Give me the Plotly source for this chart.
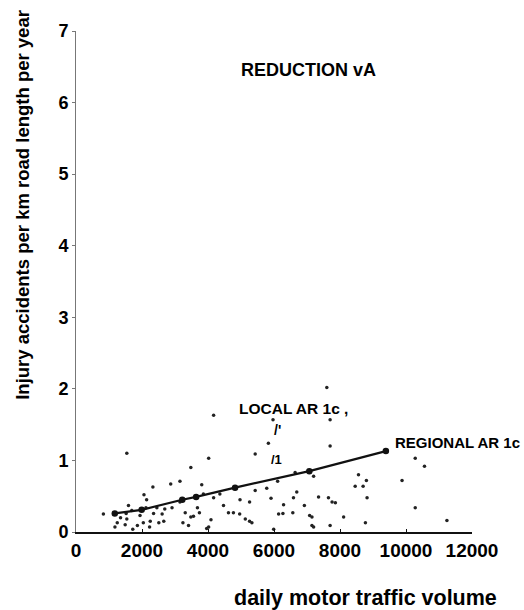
import plotly.graph_objects as go

# scatter data: daily motor traffic volume vs injury accidents per km per year
scatter_x = [1540, 4170, 7600, 5970, 7700, 5830, 7700, 4020, 5430, 3480, 10280, 10560, 9880,
             3150, 2330, 2870, 3810, 8560, 8800, 8460, 8700, 8820, 7200, 6640, 6110, 5780, 6690,
             6590, 7350, 7650, 7760, 7860, 5910, 6290, 6270, 6140, 6570, 6920, 7080, 7150, 8110,
             7150, 7200, 7700, 8770, 10280, 11240, 5990, 5260, 5430, 4970, 4470, 4620, 4770, 4960,
             5130, 5260, 5330, 4170, 4090, 4020, 3960, 3680, 3740, 3560, 3480, 3310, 3240, 3410,
             2910, 2690, 2610, 2660, 2510, 2350, 2250, 2230, 2060, 2120, 1940, 1860, 1690, 1590,
             1520, 1540, 1490, 1350, 1250, 1180, 830, 1720, 2040, 2450, 3150, 2140, 3860, 4360]
scatter_y = [1.10, 1.63, 2.02, 1.57, 1.57, 1.24, 1.20, 1.03, 1.09, 0.90, 1.03, 0.92, 0.72,
             0.71, 0.63, 0.67, 0.66, 0.80, 0.72, 0.64, 0.64, 0.48, 0.78, 0.83, 0.71, 0.61, 0.56,
             0.48, 0.49, 0.48, 0.42, 0.41, 0.47, 0.38, 0.26, 0.25, 0.27, 0.37, 0.23, 0.21, 0.21,
             0.09, 0.07, 0.09, 0.13, 0.34, 0.16, 0.04, 0.42, 0.58, 0.45, 0.37, 0.27, 0.27, 0.25,
             0.18, 0.15, 0.13, 0.48, 0.17, 0.07, 0.05, 0.34, 0.27, 0.22, 0.21, 0.27, 0.13, 0.09,
             0.34, 0.32, 0.25, 0.15, 0.13, 0.26, 0.15, 0.07, 0.52, 0.34, 0.23, 0.09, 0.30, 0.37,
             0.26, 0.18, 0.10, 0.20, 0.13, 0.07, 0.25, 0.04, 0.13, 0.34, 0.42, 0.45, 0.53, 0.53]

# regional AR 1c regression line
regional_x = [1175, 1990, 3220, 3640, 4820, 7070, 9390]
regional_y = [0.26, 0.31, 0.45, 0.49, 0.62, 0.85, 1.13]

x_ticks = [0, 2000, 4000, 6000, 8000, 10000, 12000]
x_tick_labels = ["0", "2000", "4000", "6000", "8000", "10000", "12000"]
y_ticks = [0, 1, 2, 3, 4, 5, 6, 7]

FONT = "Liberation Sans"

fig = go.Figure()
fig.add_trace(go.Scatter(x=scatter_x, y=scatter_y, mode="markers",
                         marker=dict(color="#222", size=3.5), showlegend=False))
fig.add_trace(go.Scatter(x=regional_x, y=regional_y, mode="lines+markers",
                         line=dict(color="#111", width=2.2),
                         marker=dict(color="#111", size=6.5), showlegend=False))

fig.update_layout(
    width=524, height=610,
    margin=dict(l=76, r=52, t=31, b=78),
    paper_bgcolor="white", plot_bgcolor="white",
    font=dict(family=FONT, color="black"),
    xaxis=dict(range=[0, 12000], tickvals=x_ticks, ticktext=x_tick_labels,
               showgrid=False, zeroline=False,
               showline=True, linecolor="#111", linewidth=2, ticks="inside", ticklen=3,
               tickcolor="#111",
               tickfont=dict(family=FONT, size=19, weight="bold", color="black")),
    yaxis=dict(range=[0, 7], tickvals=y_ticks, showgrid=False, zeroline=False,
               showline=True, linecolor="#777", linewidth=1, ticks="outside", ticklen=3,
               tickcolor="#777",
               tickfont=dict(family=FONT, size=18, weight="bold", color="black")),
)

annots = [
    dict(text="REDUCTION vA", xref="paper", yref="paper", x=0.586, y=0.922,
         font=dict(size=18, weight="bold")),
    dict(text="LOCAL AR 1c ,", xref="x", yref="y", x=6576, y=1.73,
         font=dict(size=15.5, weight="bold")),
    dict(text="/'", xref="x", yref="y", x=6120, y=1.42, font=dict(size=14, weight="bold")),
    dict(text="/1", xref="x", yref="y", x=6090, y=1.02, font=dict(size=13, weight="bold")),
    dict(text="REGIONAL AR 1c", xref="x", yref="y", x=9600, y=1.25, xanchor="left",
         font=dict(size=15, weight="bold")),
    dict(text="Injury accidents per km road length per year", xref="paper", yref="paper",
         x=-0.134, y=0.653, textangle=-90, font=dict(size=18.5, weight="bold")),
    dict(text="daily motor traffic volume", xref="paper", yref="paper",
         x=0.731, y=-0.132, font=dict(size=21.5, weight="bold")),
]
for a in annots:
    a.setdefault("showarrow", False)
    a.setdefault("xanchor", "center")
    a.setdefault("yanchor", "middle")
    a["font"]["family"] = FONT
    a["font"]["color"] = "black"
    fig.add_annotation(**a)

fig.write_html("out.html")
